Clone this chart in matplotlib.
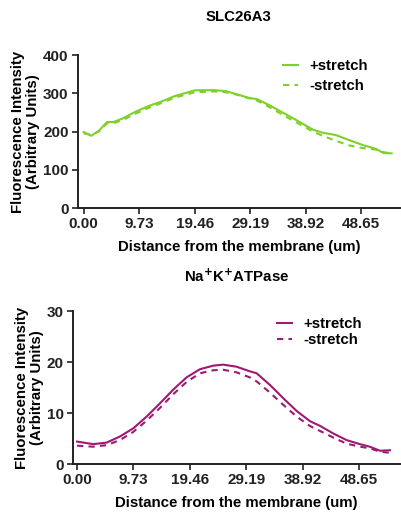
import matplotlib
matplotlib.use("Agg")
import matplotlib.pyplot as plt

plt.rcParams['font.family'] = ['Liberation Sans', 'DejaVu Sans']
plt.rcParams['font.weight'] = 'bold'

# Top panel: SLC26A3
top_title = "SLC26A3"
top_x_plus = [0, 1.33, 2.65, 4.1, 5.2, 6.8, 9.1, 11.4, 13.7, 16.0, 19.5, 22.9, 24.9, 27.0,
              29.0, 30.4, 32.7, 35.0, 37.3, 40.2, 41.9, 44.2, 46.5, 48.9, 51.2, 52.6, 54.0]
top_plus = [199, 189, 202, 225, 225, 234, 252, 267, 279, 293, 308, 308.5, 306, 297,
            288, 285, 268, 249, 230, 205, 197, 191, 178, 165, 155, 144, 143]
top_minus = [195, 192, 200, 222, 222, 230, 247, 262, 275, 289, 303, 305, 303, 296,
             287, 281, 263, 243, 224, 200, 189, 176, 164, 157, 153, 146, 143]
top_yticks = [0, 100, 200, 300, 400]

# Bottom panel: Na+K+ATPase
bot_title = r"Na$^{\mathbf{+}}$K$^{\mathbf{+}}$ATPase"
bot_x = [0, 2.8, 5.1, 7.4, 9.7, 12.0, 14.3, 16.6, 18.9, 21.2, 23.5, 25.2, 27.5, 29.8,
         31.0, 33.3, 35.6, 37.9, 40.2, 41.9, 44.2, 46.5, 48.8, 50.5, 52.3, 54.0]
bot_plus = [4.4, 3.9, 4.2, 5.4, 7.0, 9.3, 11.9, 14.6, 17.0, 18.6, 19.3, 19.5, 19.1, 18.2,
            17.8, 15.5, 12.9, 10.4, 8.4, 7.5, 6.0, 4.7, 3.9, 3.4, 2.6, 2.7]
bot_minus = [3.6, 3.4, 3.7, 4.7, 6.3, 8.5, 11.0, 13.7, 16.1, 17.8, 18.4, 18.5, 18.0, 17.0,
             16.2, 14.0, 11.6, 9.3, 7.45, 6.5, 5.2, 4.0, 3.4, 3.1, 2.4, 2.2]
bot_yticks = [0, 10, 20, 30]

xticks = [0.00, 9.73, 19.46, 29.19, 38.92, 48.65]
xticklabels = ["0.00", "9.73", "19.46", "29.19", "38.92", "48.65"]
green = "#7fd12a"
purple = "#9e1a72"
FS = 10.8

fig = plt.figure(figsize=(4.02, 5.13), dpi=100)

def style(ax, yticks, ylim, xlim):
    for s in ['top', 'right']:
        ax.spines[s].set_visible(False)
    for s in ['left', 'bottom']:
        ax.spines[s].set_linewidth(1.4)
        ax.spines[s].set_color('#222222')
    ax.set_xlim(*xlim)
    ax.set_ylim(*ylim)
    ax.set_yticks(yticks)
    ax.set_xticks(xticks)
    ax.set_xticklabels(xticklabels)
    ax.tick_params(direction='out', length=4, width=1.2, colors='#222222',
                   labelsize=11, pad=2.8)
    for lab in ax.get_xticklabels() + ax.get_yticklabels():
        lab.set_fontweight('bold')
    ax.set_xlabel("Distance from the membrane (um)", fontsize=FS, fontweight='bold', labelpad=6.5)
    ax.set_ylabel("Fluorescence Intensity\n(Arbitrary Units)", fontsize=FS,
                  fontweight='bold', labelpad=2, linespacing=1.1)

ax1 = fig.add_axes([0.194, 0.5945, 0.80, 0.298])
ax1.plot(top_x_plus, top_plus, color=green, lw=1.5, label='+stretch')
ax1.plot(top_x_plus, top_minus, color=green, lw=1.5, ls=(0, (3, 2.5)), label='-stretch')
style(ax1, top_yticks, (0, 400), (-1.0, 55.4))
ax1.set_title(top_title, fontsize=FS, fontweight='bold', pad=24.5)
ax1.legend(loc='upper left', bbox_to_anchor=(283 / 402, 1 - 59 / 513),
           bbox_transform=fig.transFigure, frameon=False, borderpad=0, borderaxespad=0,
           handlelength=1.0, handletextpad=0.75, labelspacing=0.42,
           prop={'weight': 'bold', 'size': FS})

ax2 = fig.add_axes([0.1816, 0.0955, 0.813, 0.298])
ax2.plot(bot_x, bot_plus, color=purple, lw=1.5, label='+stretch')
ax2.plot(bot_x, bot_minus, color=purple, lw=1.5, ls=(0, (3, 2.5)), label='-stretch')
style(ax2, bot_yticks, (0, 30), (-0.7, 55.7))
ax2.set_title(bot_title, fontsize=FS, fontweight='bold', pad=21)
ax2.legend(loc='upper left', bbox_to_anchor=(277 / 402, 1 - 317 / 513),
           bbox_transform=fig.transFigure, frameon=False, borderpad=0, borderaxespad=0,
           handlelength=1.0, handletextpad=0.75, labelspacing=0.15,
           prop={'weight': 'bold', 'size': FS})

fig.savefig("out.png", dpi=100)
